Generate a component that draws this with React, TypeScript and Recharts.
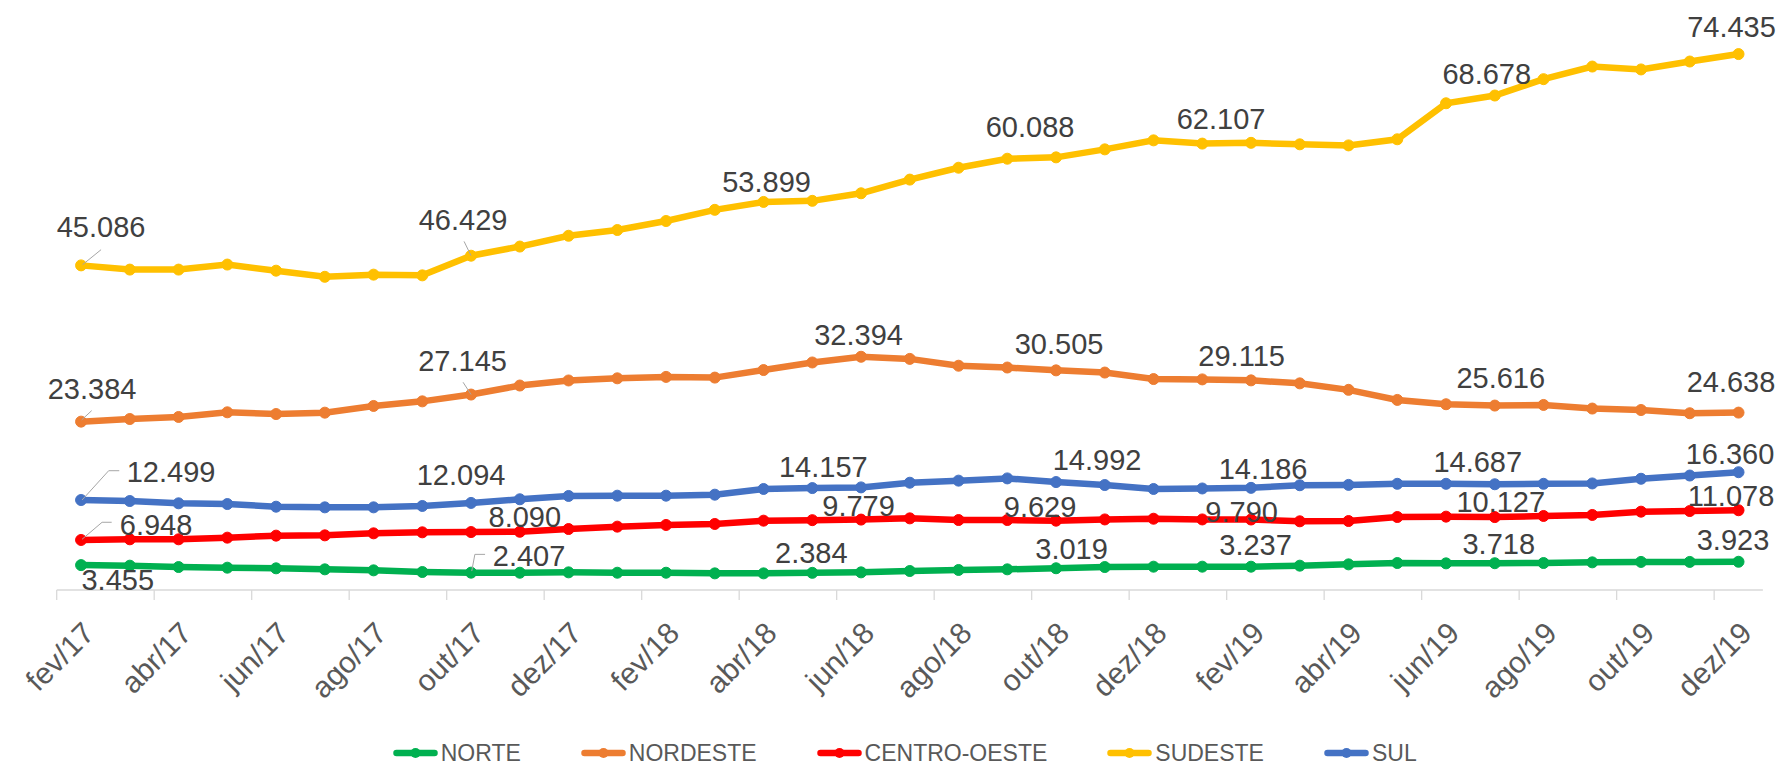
import React from 'react';
import { LineChart, Line, XAxis, YAxis, LabelList, Legend } from 'recharts';

const months = [
  'fev/17', 'mar/17', 'abr/17', 'mai/17', 'jun/17', 'jul/17', 'ago/17', 'set/17', 'out/17', 'nov/17', 'dez/17',
  'jan/18', 'fev/18', 'mar/18', 'abr/18', 'mai/18', 'jun/18', 'jul/18', 'ago/18', 'set/18', 'out/18', 'nov/18', 'dez/18',
  'jan/19', 'fev/19', 'mar/19', 'abr/19', 'mai/19', 'jun/19', 'jul/19', 'ago/19', 'set/19', 'out/19', 'nov/19', 'dez/19',
];

const norte = [
  3455, 3380, 3190, 3100, 3010, 2870, 2730, 2500, 2407, 2400, 2450,
  2400, 2400, 2310, 2310, 2384, 2450, 2640, 2780, 2870, 3019, 3190, 3240,
  3240, 3237, 3380, 3560, 3750, 3700, 3718, 3750, 3840, 3900, 3900, 3923,
];
const nordeste = [
  23384, 23750, 24030, 24680, 24440, 24630, 25560, 26200, 27145, 28400, 29100,
  29400, 29600, 29500, 30550, 31600, 32394, 32100, 31150, 30900, 30505, 30200, 29300,
  29250, 29115, 28700, 27800, 26400, 25800, 25616, 25700, 25200, 25000, 24550, 24638,
];
const centroOeste = [
  6948, 7040, 7040, 7270, 7550, 7590, 7870, 8010, 8050, 8090, 8470,
  8800, 9030, 9170, 9630, 9700, 9779, 9950, 9720, 9720, 9629, 9800, 9900,
  9800, 9790, 9540, 9580, 10140, 10190, 10127, 10280, 10420, 10880, 10970, 11078,
];
const sudeste = [
  45086, 44500, 44500, 45200, 44350, 43500, 43800, 43700, 46429, 47700, 49200,
  50000, 51250, 52800, 53899, 54050, 55100, 57000, 58650, 59900, 60088, 61200, 62450,
  62000, 62107, 61900, 61750, 62600, 67600, 68678, 70950, 72700, 72300, 73400, 74435,
];
const sul = [
  12499, 12360, 12040, 11940, 11570, 11480, 11480, 11670, 12094, 12600, 13060,
  13100, 13100, 13240, 14030, 14157, 14250, 14900, 15190, 15500, 14992, 14580, 14030,
  14100, 14186, 14550, 14600, 14750, 14750, 14687, 14750, 14800, 15450, 15900, 16360,
];

const seriesNames = ['NORTE', 'NORDESTE', 'CENTRO-OESTE', 'SUDESTE', 'SUL'];

const data = months.map((m, i) => ({
  month: m,
  NORTE: norte[i],
  NORDESTE: nordeste[i],
  'CENTRO-OESTE': centroOeste[i],
  SUDESTE: sudeste[i],
  SUL: sul[i],
}));

const COLORS: Record<string, string> = {
  NORTE: '#00B050',
  NORDESTE: '#ED7D31',
  'CENTRO-OESTE': '#FF0000',
  SUDESTE: '#FFC000',
  SUL: '#4472C4',
};

// label placement (offset of text centre / baseline from the point, optional leader line)
type LabelCfg = { dx: number; dy: number; leader?: number[][] };
const LABEL_LAYOUT: Record<string, Record<number, LabelCfg>> = {
  SUDESTE: {
    0: { dx: 20, dy: -28, leader: [[1.5, -0.7], [20, -15.7]] },
    8: { dx: -8, dy: -26, leader: [[0, 0], [-7, -14.3]] },
    14: { dx: 3, dy: -10 },
    20: { dx: -26, dy: -20 },
    24: { dx: -30, dy: -14 },
    29: { dx: -8, dy: -12 },
    34: { dx: -7, dy: -17 },
  },
  NORDESTE: {
    0: { dx: 11, dy: -23, leader: [[0.6, -1.7], [10.6, -11]] },
    8: { dx: -8.5, dy: -24, leader: [[0, 0], [-8, -12.3]] },
    16: { dx: -2.5, dy: -12 },
    20: { dx: 3, dy: -16.7 },
    24: { dx: -9.4, dy: -14.3 },
    29: { dx: 6, dy: -18 },
    34: { dx: -7.5, dy: -20.4 },
  },
  SUL: {
    0: { dx: 90, dy: -17.7, leader: [[1, 0], [27.6, -29.3], [38.2, -29.3]] },
    8: { dx: -10, dy: -17.7 },
    15: { dx: 11, dy: -11.3 },
    20: { dx: 41, dy: -11.6 },
    24: { dx: 12, dy: -9 },
    29: { dx: -17, dy: -12.6 },
    34: { dx: -8.5, dy: -8.7 },
  },
  'CENTRO-OESTE': {
    0: { dx: 75, dy: -5, leader: [[1, -0.7], [21, -17.7], [30.6, -17.7]] },
    9: { dx: 5, dy: -5 },
    16: { dx: -2.5, dy: -3.7 },
    20: { dx: -16, dy: -3.7 },
    24: { dx: -9.4, dy: 2.4 },
    29: { dx: 6, dy: -4.6 },
    34: { dx: -7.5, dy: -4.3 },
  },
  NORTE: {
    0: { dx: 36.7, dy: 25 },
    8: { dx: 58, dy: -6.6, leader: [[0.7, -1.6], [3.8, -18.3], [14, -18.3]] },
    15: { dx: -1, dy: -10 },
    20: { dx: 15.5, dy: -9 },
    24: { dx: 4.5, dy: -11.7 },
    29: { dx: 4, dy: -9.3 },
    34: { dx: -5.5, dy: -11.7 },
  },
};

const W = 1787;
const H = 766;
const PLOT_LEFT = 56.7;
const PLOT_RIGHT = 1762.9;
const PLOT_TOP = 14;
const PLOT_BOTTOM = 590;
const XAXIS_H = 30;
const BAND = (PLOT_RIGHT - PLOT_LEFT) / months.length;
const FONT = '"Liberation Sans", Arial, sans-serif';

const fmt = (v: number) => String(Math.round(v)).replace(/\B(?=(\d{3})+(?!\d))/g, '.');

const makeLabel = (key: string) => (props: any) => {
  const { x, y, value } = props;
  if (x == null || y == null) return null;
  const idx = Math.round((Number(x) - (PLOT_LEFT + BAND / 2)) / BAND);
  const cfg = LABEL_LAYOUT[key][idx];
  if (!cfg) return null;
  const px = Number(x);
  const py = Number(y);
  return (
    <g key={`${key}-${idx}`}>
      {cfg.leader && (
        <polyline
          points={cfg.leader.map(([a, b]) => `${px + a},${py + b}`).join(' ')}
          fill="none"
          stroke="#A6A6A6"
          strokeWidth={1}
        />
      )}
      <text x={px + cfg.dx} y={py + cfg.dy} textAnchor="middle" fontSize={29} fill="#404040" fontFamily={FONT}>
        {fmt(Number(value))}
      </text>
    </g>
  );
};

const XTick = (props: any) => {
  const { x, y, payload } = props;
  return (
    <g>
      <line x1={x - BAND / 2} x2={x - BAND / 2} y1={y} y2={y + 10} stroke="#D9D9D9" strokeWidth={1.3} />
      <text
        transform={`translate(${x + 15},${y + 45}) rotate(-45)`}
        textAnchor="end"
        fontSize={30}
        fill="#595959"
        fontFamily={FONT}
      >
        {payload.value}
      </text>
    </g>
  );
};

const renderLegend = () => (
  <div
    style={{
      display: 'flex',
      alignItems: 'center',
      fontFamily: FONT,
      fontSize: 23,
      color: '#595959',
      lineHeight: '26px',
      whiteSpace: 'nowrap',
    }}
  >
    {seriesNames.map((name) => (
      <div key={name} style={{ display: 'flex', alignItems: 'center', marginRight: 60 }}>
        <svg width={45} height={14} style={{ marginRight: 3 }}>
          <line x1={3.5} y1={7} x2={41.5} y2={7} stroke={COLORS[name]} strokeWidth={6.5} strokeLinecap="round" />
          <circle cx={22.5} cy={7} r={5} fill={COLORS[name]} />
        </svg>
        <span>{name}</span>
      </div>
    ))}
  </div>
);

export default function App() {
  return (
    <div style={{ position: 'absolute', left: 0, top: 0, width: W, height: H, overflow: 'hidden', background: '#fff' }}>
      <LineChart
        width={W}
        height={H}
        data={data}
        margin={{ top: PLOT_TOP, left: PLOT_LEFT, right: W - PLOT_RIGHT, bottom: H - PLOT_BOTTOM - XAXIS_H }}
      >
        <XAxis
          dataKey="month"
          interval={1}
          tickLine={false}
          tickSize={0}
          tickMargin={0}
          height={XAXIS_H}
          axisLine={{ stroke: '#D9D9D9', strokeWidth: 1.3 }}
          padding={{ left: BAND / 2, right: BAND / 2 }}
          tick={(p: any) => <XTick {...p} />}
        />
        <YAxis hide type="number" domain={[0, 80000]} />
        <Legend
          layout="horizontal"
          verticalAlign="middle"
          align="center"
          wrapperStyle={{ top: 740, left: 392.7, width: 1300, height: 26 }}
          content={renderLegend}
        />
        {seriesNames.map((name) => (
          <Line
            key={name}
            type="linear"
            dataKey={name}
            stroke={COLORS[name]}
            strokeWidth={6.5}
            dot={{ r: 5.5, fill: COLORS[name], stroke: COLORS[name], strokeWidth: 1 }}
            activeDot={false}
            isAnimationActive={false}
          >
            <LabelList dataKey={name} content={makeLabel(name)} />
          </Line>
        ))}
      </LineChart>
    </div>
  );
}
